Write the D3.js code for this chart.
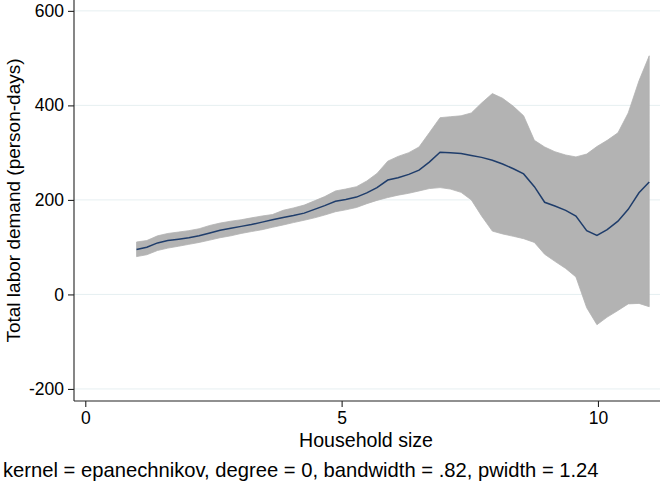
<!DOCTYPE html>
<html>
<head>
<meta charset="utf-8">
<script src="https://cdn.jsdelivr.net/npm/d3@7"></script>
<style>
  body { margin: 0; background: #fff; }
  text { font-family: "Liberation Sans", Arial, Helvetica, sans-serif; fill: #000; }
</style>
</head>
<body>
<svg id="chart" width="662" height="485"></svg>
<script>
// lpoly grid points (household size)
const hhSize = [1.00, 1.20, 1.41, 1.61, 1.82, 2.02, 2.22, 2.43, 2.63, 2.84,
  3.04, 3.24, 3.45, 3.65, 3.86, 4.06, 4.27, 4.47, 4.67, 4.88,
  5.08, 5.29, 5.49, 5.69, 5.90, 6.10, 6.31, 6.51, 6.71, 6.92,
  7.12, 7.33, 7.53, 7.73, 7.94, 8.14, 8.35, 8.55, 8.76, 8.96,
  9.16, 9.37, 9.57, 9.78, 9.98, 10.18, 10.39, 10.59, 10.80, 11.00];

// smoothed total labor demand
const smooth = [95, 100, 109, 114, 117, 120, 124, 130, 136, 140,
  144, 148, 153, 158, 163, 167, 172, 180, 188, 197,
  201, 206, 215, 226, 242, 247, 254, 263, 280, 301,
  300, 298, 294, 290, 284, 276, 266, 255, 228, 195,
  187, 178, 166, 135, 125, 137, 155, 180, 215, 238];

// 95% CI bounds
const ciUpper = [111, 114, 124, 129, 132, 135, 139, 146, 151, 155,
  158, 162, 166, 169, 178, 183, 189, 198, 207, 219,
  223, 228, 240, 256, 282, 292, 300, 312, 342, 374,
  376, 378, 384, 405, 425, 415, 398, 378, 326, 312,
  302, 295, 291, 297, 313, 326, 342, 384, 452, 505];
const ciLower = [80, 84, 93, 98, 102, 106, 110, 115, 120, 124,
  129, 133, 137, 142, 147, 152, 157, 162, 168, 175,
  179, 184, 192, 199, 205, 210, 214, 219, 224, 226,
  223, 216, 200, 166, 134, 128, 123, 118, 110, 85,
  70, 55, 37, -28, -64, -48, -34, -20, -19, -26];

const xTicks = [0, 5, 10];
const yTicks = [-200, 0, 200, 400, 600];

const svg = d3.select("#chart");
const pLeft = 74, pRight = 660, pTop = 0, pBottom = 401;

const x = d3.scaleLinear().domain([-0.22, 11.21]).range([pLeft, pRight]);
const y = d3.scaleLinear().domain([-225.5, 623]).range([pBottom, pTop]);

const rows = hhSize.map((v, i) => ({ x: v, m: smooth[i], hi: ciUpper[i], lo: ciLower[i] }));

// gridlines
svg.append("g")
  .selectAll("line")
  .data(yTicks)
  .join("line")
  .attr("x1", pLeft).attr("x2", pRight)
  .attr("y1", d => y(d)).attr("y2", d => y(d))
  .attr("stroke", "#e6eff1")
  .attr("stroke-width", 1);

// CI band
svg.append("path")
  .datum(rows)
  .attr("d", d3.area().x(d => x(d.x)).y0(d => y(d.lo)).y1(d => y(d.hi)))
  .attr("fill", "#b3b3b3")
  .attr("stroke", "#b3b3b3")
  .attr("stroke-width", 0.8);

// smooth line
svg.append("path")
  .datum(rows)
  .attr("d", d3.line().x(d => x(d.x)).y(d => y(d.m)))
  .attr("fill", "none")
  .attr("stroke", "#1f3d6b")
  .attr("stroke-width", 1.5);

// axes (plain hyphen for negatives, like Stata)
const yAxis = svg.append("g")
  .attr("transform", `translate(${pLeft},0)`)
  .call(d3.axisLeft(y).tickValues(yTicks).tickFormat(d => String(d))
    .tickSize(6).tickPadding(4).tickSizeOuter(0));
yAxis.select(".domain").attr("d", `M0,${pTop}V${pBottom}`);

const xAxis = svg.append("g")
  .attr("transform", `translate(0,${pBottom})`)
  .call(d3.axisBottom(x).tickValues(xTicks).tickFormat(d => String(d))
    .tickSize(6).tickPadding(5).tickSizeOuter(0));
xAxis.select(".domain").attr("d", `M${pLeft},0H${pRight}`);

svg.selectAll(".tick text")
  .style("font-family", "'Liberation Sans', Arial, sans-serif")
  .style("font-size", "17.5px")
  .attr("fill", "#000");
svg.selectAll(".domain, .tick line").attr("stroke", "#222").attr("stroke-width", 1.1);

// axis titles
svg.append("text")
  .attr("transform", `translate(20,${(pTop + pBottom) / 2}) rotate(-90)`)
  .attr("text-anchor", "middle")
  .style("font-size", "19px")
  .text("Total labor demand (person-days)");

svg.append("text")
  .attr("x", 366)
  .attr("y", 447)
  .attr("text-anchor", "middle")
  .style("font-size", "19.6px")
  .text("Household size");

svg.append("text")
  .attr("x", 3)
  .attr("y", 477)
  .style("font-size", "20.2px")
  .text("kernel = epanechnikov, degree = 0, bandwidth = .82, pwidth = 1.24");
</script>
</body>
</html>
